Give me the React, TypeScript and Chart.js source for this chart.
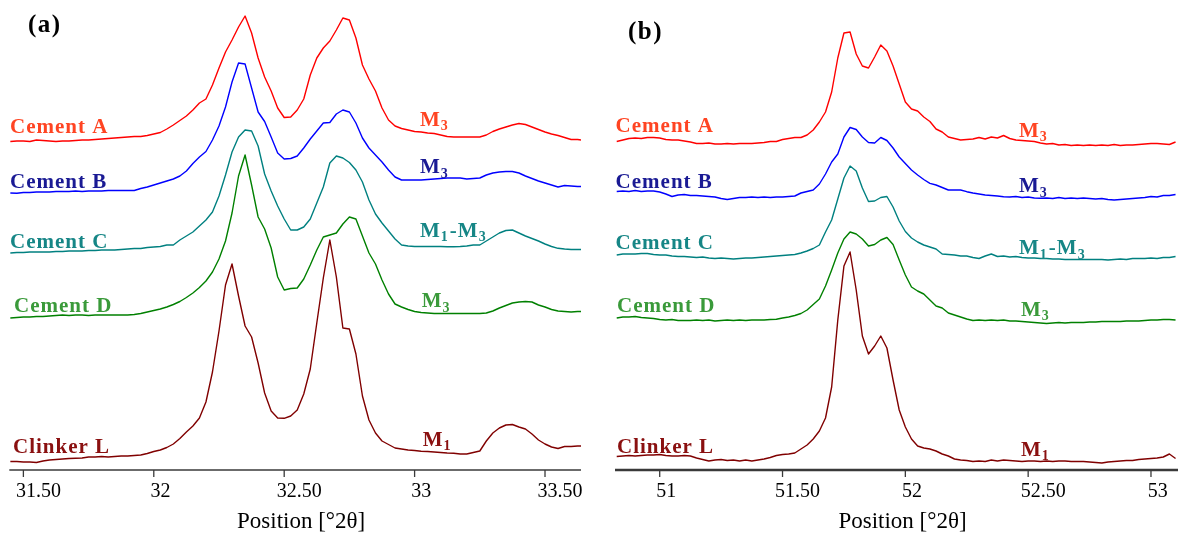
import React, { useEffect, useRef } from "react";
import { Chart, registerables } from "chart.js";

Chart.register(...registerables);

// ---------- Panel (a): 31.45 – 33.64 °2θ ----------
const xA = [
  31.45, 31.475, 31.5, 31.525, 31.55, 31.575, 31.6, 31.625, 31.65, 31.675, 31.7, 31.725, 31.75, 31.775, 31.8,
  31.825, 31.85, 31.875, 31.9, 31.925, 31.95, 31.975, 32, 32.025, 32.05, 32.075, 32.1, 32.125, 32.15, 32.175,
  32.2, 32.225, 32.25, 32.275, 32.3, 32.325, 32.35, 32.375, 32.4, 32.425, 32.45, 32.475, 32.5, 32.525, 32.55,
  32.575, 32.6, 32.625, 32.65, 32.675, 32.7, 32.725, 32.75, 32.775, 32.8, 32.825, 32.85, 32.875, 32.9, 32.925,
  32.95, 32.975, 33, 33.025, 33.05, 33.075, 33.1, 33.125, 33.15, 33.175, 33.2, 33.225, 33.25, 33.275, 33.3,
  33.325, 33.35, 33.375, 33.4, 33.425, 33.45, 33.475, 33.5, 33.525, 33.55, 33.575, 33.6, 33.625, 33.638,
];

const cementA_a = [
  328.5, 329, 329, 328.5, 330, 329.5, 329, 328.5, 329, 329,
  329.5, 330, 330, 330.5, 331, 331.5, 332, 332.5, 333, 333.5,
  333.5, 334.5, 336, 337.5, 341, 345, 349.5, 354, 360, 367,
  371, 385, 402, 418, 430, 443, 454, 437, 412, 393,
  379, 362, 352.5, 353, 360, 371, 395, 412, 422, 429,
  440, 452, 450, 432, 405, 391, 379, 362, 350, 344,
  341.5, 340, 338.5, 338, 337, 336.5, 335, 333.5, 333, 333,
  333, 333, 333, 335, 338.5, 341, 343, 345, 346.5, 345.5,
  343, 340.5, 338, 336, 334.5, 332.5, 330.5, 330.5, 330,
];
const cementB_a = [
  277, 276.7, 277.5, 277.5, 278, 278, 278, 278.5, 278.5, 278.5,
  279, 278.5, 279, 279, 279, 279.5, 279.5, 279.5, 279.5, 279.5,
  281.5, 283, 285, 287, 289, 291, 294, 299, 306.5, 313,
  318.5, 330, 344, 363, 388, 407, 406, 382, 358, 348.5,
  333, 317, 311, 311.5, 314, 322, 331, 339, 347, 347.5,
  356, 360, 358, 347, 332, 322, 315, 308, 300, 293,
  290, 290, 290, 290, 290.5, 291, 291.5, 292, 292, 292,
  291, 291.5, 292, 295, 297, 298, 298.5, 298.5, 297, 294,
  291.5, 289, 287, 285, 283, 284.5, 284, 283.5, 283.5,
];
const cementC_a = [
  217, 217.5, 217.5, 218, 218, 218, 218, 218.5, 218.5, 219,
  219, 219, 219.5, 219.5, 220, 220, 220, 220.5, 221, 221.5,
  221.5, 222.5, 223, 223.5, 225, 225, 230, 234, 238, 244,
  250, 258, 274, 295, 318, 333, 340, 339, 324, 296,
  279, 264, 251, 240, 240, 243, 251, 267, 283, 307,
  314, 312, 307.5, 300, 288, 270, 256, 247, 239, 231,
  225, 224, 223.5, 223.5, 223.5, 223.5, 223.5, 223.3, 223.3, 223.5,
  224, 225, 225, 229, 233, 237, 239.5, 240, 237, 234,
  231.5, 229, 226, 223.5, 221.7, 221, 220.5, 220.5, 220.5,
];
const cementD_a = [
  152, 152.5, 153, 153, 153.5, 153.5, 154, 154.5, 155, 154.5,
  155, 155, 154.5, 155, 155, 155, 155, 155, 155, 155.5,
  156.5, 158, 159.5, 161, 163, 165.5, 168.5, 172.5, 177, 182.5,
  189, 198, 211, 229, 257, 294, 315, 285, 253, 241,
  222, 193, 180, 181.5, 182, 191, 205, 220, 233, 235,
  237, 246, 253, 251, 234, 217, 206, 190, 176, 166,
  163, 160.5, 158.5, 157.5, 157, 156.5, 156.5, 156.5, 156.5, 156.5,
  156.5, 156.5, 156.5, 157, 159, 162, 164.5, 167, 168, 168.5,
  168, 165, 163, 160.5, 159, 158.5, 158, 158.5, 158.5,
];
const clinkerL_a = [
  8.5, 8.5, 8, 8, 7.5, 9, 10, 10.5, 11, 11.5,
  11.7, 12, 13, 13, 13.5, 13, 13.5, 14, 14, 14.5,
  15, 16.5, 18.5, 20, 22.5, 26, 31.5, 38, 44, 52,
  68, 98, 139, 185, 206, 174, 144, 133, 107, 77,
  59, 52, 51.7, 54, 60, 76, 101, 147, 192, 230,
  193, 142, 141, 116, 74, 50, 37, 29, 25.5, 22,
  21, 20, 19.5, 18.7, 18.5, 18, 17.5, 17, 16.7, 16,
  16, 17.5, 19, 29, 37, 42, 45, 45.5, 43, 41,
  36, 30, 26, 23, 21.5, 23.5, 23.5, 24, 24,
];

// ---------- Panel (b): 50.825 – 53.1 °2θ ----------
const xB = [
  50.825, 50.85, 50.875, 50.9, 50.925, 50.95, 50.975, 51, 51.025, 51.05, 51.075, 51.1, 51.125, 51.15, 51.175,
  51.2, 51.225, 51.25, 51.275, 51.3, 51.325, 51.35, 51.375, 51.4, 51.425, 51.45, 51.475, 51.5, 51.525, 51.55,
  51.575, 51.6, 51.625, 51.65, 51.675, 51.7, 51.725, 51.75, 51.775, 51.8, 51.825, 51.85, 51.875, 51.9, 51.925,
  51.95, 51.975, 52, 52.025, 52.05, 52.075, 52.1, 52.125, 52.15, 52.175, 52.2, 52.225, 52.25, 52.275, 52.3,
  52.325, 52.35, 52.375, 52.4, 52.425, 52.45, 52.475, 52.5, 52.525, 52.55, 52.575, 52.6, 52.625, 52.65, 52.675,
  52.7, 52.725, 52.75, 52.775, 52.8, 52.825, 52.85, 52.875, 52.9, 52.925, 52.95, 52.975, 53, 53.025, 53.05,
  53.075, 53.1,
];

const cementA_b = [
  328.5, 330, 331.5, 332, 331.5, 332.5, 332.5, 332, 330.5, 330,
  330, 329, 328, 326.5, 326.5, 327, 326, 326, 326.5, 326,
  326.5, 326.5, 326.5, 327, 327.5, 328.5, 328.5, 330.5, 331.5, 332.5,
  332.5, 335, 340, 348, 358, 378, 412, 437, 438, 416,
  404, 402, 413, 425, 419, 404, 386, 368, 361, 359,
  353, 348.5, 341, 338, 333, 331.5, 330, 330.5, 331, 332.5,
  331, 333, 332, 334.5, 331.5, 330, 329.5, 329, 328.5, 327,
  326, 326.5, 325, 325.5, 324.5, 325, 324.5, 325, 324.5, 325,
  324.5, 325.5, 324.5, 325, 325, 325.5, 326, 326.5, 326.5, 326,
  325.5, 328,
];
const cementB_b = [
  278.5, 279, 278.5, 279.5, 278.5, 279, 279, 278, 276, 273.5,
  275, 275.5, 274.5, 274.5, 274, 273.5, 273, 271.5, 270.5, 271.5,
  272.5, 272.5, 273, 272.5, 273, 272.5, 273, 273, 273.5, 274,
  277, 278.5, 280, 286, 296, 308, 316, 333, 342.5, 340.5,
  333, 327.5, 327, 332.5, 329.5, 322, 313, 306.5, 300, 295,
  290.5, 286.7, 285, 282.5, 280, 280, 280, 278.3, 277, 276,
  275, 274.5, 274, 273.3, 273, 273.5, 272.5, 273, 272, 271.7,
  272, 271.5, 272.5, 271.5, 272, 271.5, 272, 271.5, 271, 271.5,
  270.5, 270, 270.5, 271, 271.5, 272, 272.5, 273.5, 273, 274.5,
  274.5, 275.5,
];
const cementC_b = [
  215, 216, 216, 216, 216.5, 216.5, 215.5, 215, 215, 214,
  213.5, 213.5, 213, 212.5, 213, 212, 211.5, 212, 211.5, 211,
  211.5, 212, 212, 212.5, 213, 213.5, 214, 214.5, 215, 215.5,
  217, 219, 221.5, 225, 238, 250, 271, 292, 304, 299,
  282, 268.5, 269, 272.5, 273.5, 263, 249, 238.5, 232, 228,
  225, 223, 221, 216, 215.5, 215, 214, 214, 212.5, 211.5,
  214, 216, 213.5, 214, 213, 213.5, 212.5, 212, 212, 211.5,
  211.5, 211, 211, 210.5, 210.5, 210.5, 210.5, 210.5, 210.5, 210.5,
  210, 210.5, 211, 210.5, 211.5, 211.5, 211.5, 212, 211.5, 212.5,
  212.5, 213.5,
];
const cementD_b = [
  152, 153, 153, 153.5, 152.5, 152, 151.5, 150.5, 150, 150.5,
  149.5, 149.5, 149.5, 150, 149.5, 150, 149, 149.5, 150, 149.5,
  150, 149.5, 150, 150, 150, 150.5, 150.7, 152, 153, 154.5,
  156.5, 160, 165.5, 171, 184, 200, 217, 231, 238, 236,
  231, 224, 225.5, 230, 232.5, 225.5, 210, 195, 183, 179,
  176, 170, 164, 162, 157, 155, 153, 151, 149.5, 150,
  149.5, 150, 149.5, 150, 149, 149, 148.5, 148, 147.5, 147,
  146.5, 147, 147.5, 147, 147.5, 147.5, 147.5, 148, 148, 148.5,
  148.5, 148.5, 148.5, 149, 149, 149, 149.5, 150, 150, 150.5,
  150.5, 150,
];
const clinkerL_b = [
  13.5, 14, 14.5, 14, 14.5, 15, 15, 15.5, 14.5, 14,
  14, 14.5, 14, 12, 10.5, 9, 10, 10.5, 9.5, 10,
  9, 10, 9, 10, 11, 12.5, 14.5, 15.5, 16, 17,
  21, 25, 31, 39, 52, 83, 150, 204, 218, 180,
  134, 116, 124, 134, 122, 90, 60, 43, 31, 24,
  22, 21, 19, 16, 14, 11, 10, 9.5, 8.5, 9,
  8.5, 10, 9, 10, 9.5, 9, 8.5, 9, 9, 8.5,
  9, 8.5, 9, 9, 8.5, 8.5, 8.5, 8, 7.5, 7,
  8, 8.5, 9, 9.5, 9.5, 10.5, 11, 11.5, 12, 13,
  16, 11.5,
];

const ticksA = [31.5, 32, 32.5, 33, 33.5];
const tickLabelsA = ["31.50", "32", "32.50", "33", "33.50"];
const ticksB = [51, 51.5, 52, 52.5, 53];
const tickLabelsB = ["51", "51.50", "52", "52.50", "53"];

const seriesNames = ["Cement A", "Cement B", "Cement C", "Cement D", "Clinker L"];
const phaseLabelsA = ["M_3", "M_3", "M_1-M_3", "M_3", "M_1"];
const phaseLabelsB = ["M_3", "M_3", "M_1-M_3", "M_3", "M_1"];
const lineColors = ["#ff0000", "#0000ff", "#008080", "#008000", "#800000"];
const textColors = ["#ff4422", "#1a1a94", "#168686", "#3a9a3a", "#8a1010"];

type PanelCfg = {
  letter: string;
  letterPos: [number, number];
  x: number[];
  series: number[][];
  min: number;
  max: number;
  ticks: number[];
  tickLabels: string[];
  phases: string[];
  padding: { left: number; right: number; top: number; bottom: number };
  leftLabels: [number, number][];
  rightLabels: [number, number][];
  axisWidth: number;
  canvasLeft: number;
};

const SERIF = "'Liberation Serif', 'DejaVu Serif', serif";

function drawRich(ctx: CanvasRenderingContext2D, text: string, x: number, y: number) {
  const parts = text.split(/(_\d)/).filter((p) => p.length > 0);
  let cx = x;
  for (const p of parts) {
    if (p.startsWith("_")) {
      ctx.font = `bold 14px ${SERIF}`;
      ctx.fillText(p.slice(1), cx, y + 4.5);
      cx += ctx.measureText(p.slice(1)).width + 1;
    } else {
      ctx.font = `bold 21px ${SERIF}`;
      ctx.fillText(p, cx, y);
      cx += ctx.measureText(p).width;
    }
  }
}

function Panel({ cfg }: { cfg: PanelCfg }) {
  const ref = useRef<HTMLCanvasElement | null>(null);
  useEffect(() => {
    if (!ref.current) return;
    const textPlugin = {
      id: "xrdText",
      afterDraw(chart: any) {
        const ctx: CanvasRenderingContext2D = chart.ctx;
        const area = chart.chartArea;
        const xs = chart.scales.x;
        ctx.save();
        // axis line
        ctx.strokeStyle = "#3a3a3a";
        ctx.lineWidth = cfg.axisWidth;
        ctx.beginPath();
        ctx.moveTo(area.left, area.bottom);
        ctx.lineTo(area.right, area.bottom);
        ctx.stroke();
        // ticks + labels
        ctx.lineWidth = 1.3;
        ctx.fillStyle = "#000";
        ctx.font = `20px ${SERIF}`;
        ctx.textBaseline = "alphabetic";
        ctx.textAlign = "left";
        cfg.ticks.forEach((t, i) => {
          const px = xs.getPixelForValue(t);
          ctx.beginPath();
          ctx.moveTo(px, area.bottom);
          ctx.lineTo(px, area.bottom + 7);
          ctx.stroke();
          const w = ctx.measureText(cfg.tickLabels[i]).width;
          ctx.fillText(cfg.tickLabels[i], px - w / 6, area.bottom + 27);
        });
        // axis title
        ctx.font = `23px ${SERIF}`;
        ctx.textAlign = "center";
        ctx.fillText("Position [°2θ]", (area.left + area.right) / 2 + 6, area.bottom + 57.5);
        // panel letter
        ctx.textAlign = "left";
        (ctx as any).letterSpacing = "1.5px";
        ctx.font = `bold 25px ${SERIF}`;
        ctx.fillText(cfg.letter, cfg.letterPos[0], cfg.letterPos[1]);
        // series labels
        (ctx as any).letterSpacing = "1px";
        seriesNames.forEach((name, i) => {
          ctx.fillStyle = textColors[i];
          ctx.font = `bold 21px ${SERIF}`;
          ctx.fillText(name, cfg.leftLabels[i][0], cfg.leftLabels[i][1]);
          drawRich(ctx, cfg.phases[i], cfg.rightLabels[i][0], cfg.rightLabels[i][1]);
        });
        (ctx as any).letterSpacing = "0px";
        ctx.restore();
      },
    };
    const chart = new Chart(ref.current, {
      type: "line",
      data: {
        datasets: cfg.series.map((vals, si) => ({
          label: seriesNames[si],
          data: cfg.x.map((xv, i) => ({ x: xv, y: vals[i] })),
          borderColor: lineColors[si],
          backgroundColor: lineColors[si],
          borderWidth: 1.4,
          borderJoinStyle: "round",
          pointRadius: 0,
          tension: 0,
          fill: false,
        })),
      },
      options: {
        responsive: false,
        animation: false,
        layout: { padding: cfg.padding },
        plugins: { legend: { display: false }, tooltip: { enabled: false } },
        scales: {
          x: { type: "linear", min: cfg.min, max: cfg.max, display: false },
          y: { type: "linear", min: 0, max: 460, display: false },
        },
      },
      plugins: [textPlugin],
    } as any);
    return () => chart.destroy();
  }, [cfg]);
  return (
    <canvas
      ref={ref}
      width={590}
      height={533}
      style={{ position: "absolute", left: cfg.canvasLeft, top: 0, width: 590, height: 533 }}
    />
  );
}

const panelA: PanelCfg = {
  letter: "(a)",
  letterPos: [28, 32],
  x: xA,
  series: [cementA_a, cementB_a, cementC_a, cementD_a, clinkerL_a],
  min: 31.446,
  max: 33.638,
  ticks: ticksA,
  tickLabels: tickLabelsA,
  phases: phaseLabelsA,
  padding: { left: 9.3, right: 9, top: 10, bottom: 63 },
  leftLabels: [[10, 133], [10, 188], [10, 248], [14, 311.5], [13, 453]],
  rightLabels: [[420, 125.7], [420, 173.3], [420, 236.7], [421.7, 307.3], [422.7, 445.7]],
  axisWidth: 1.5,
  canvasLeft: 0,
};

const panelB: PanelCfg = {
  letter: "(b)",
  letterPos: [38, 38.5],
  x: xB,
  series: [cementA_b, cementB_b, cementC_b, cementD_b, clinkerL_b],
  min: 50.818,
  max: 53.11,
  ticks: ticksB,
  tickLabels: tickLabelsB,
  phases: phaseLabelsB,
  padding: { left: 25, right: 2, top: 10, bottom: 63 },
  leftLabels: [[25.6, 132], [25.6, 188], [25.6, 249], [27, 311.5], [27, 453]],
  rightLabels: [[429, 136.7], [429, 192.3], [429, 254], [431, 315.7], [431, 455.7]],
  axisWidth: 2.5,
  canvasLeft: 590,
};

export default function App() {
  return (
    <div style={{ position: "absolute", left: 0, top: 0, width: 1180, height: 533, background: "#fff" }}>
      <Panel cfg={panelA} />
      <Panel cfg={panelB} />
    </div>
  );
}
